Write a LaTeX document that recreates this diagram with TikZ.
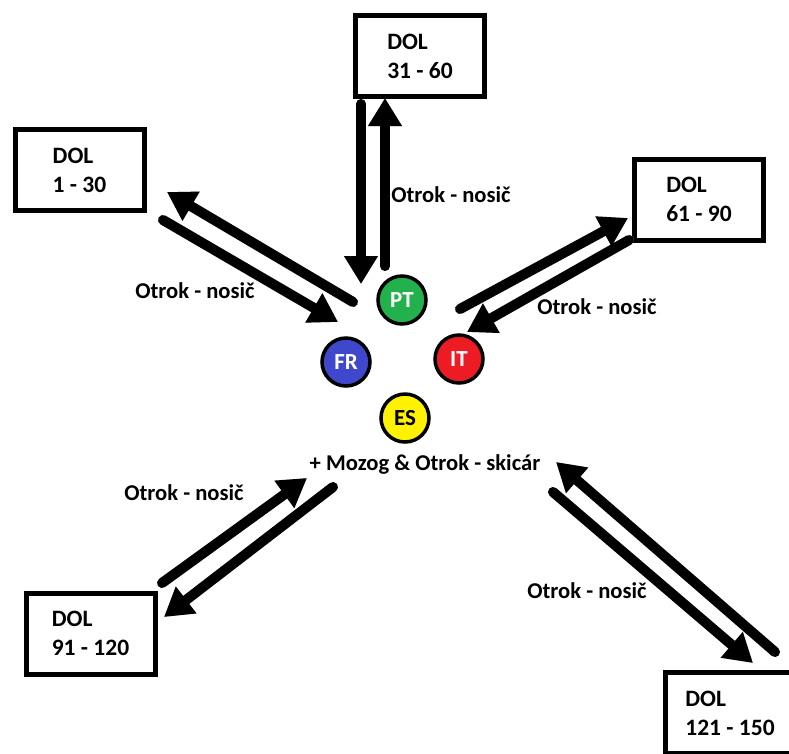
\documentclass[tikz,border=0pt]{standalone}
\usepackage{fontspec}
\setmainfont{Carlito}
\usetikzlibrary{arrows.meta}
\begin{document}
\begin{tikzpicture}[x=1pt,y=-1pt,
  dolbox/.style={draw,line width=5pt,minimum width=129pt,minimum height=81pt,align=left,
    font=\bfseries\fontsize{23.5}{29}\selectfont,inner sep=0pt},
  circ/.style={circle,draw,line width=3.5pt,minimum size=48pt,inner sep=0pt,
    font=\bfseries\fontsize{23}{26}\selectfont},
  lbl/.style={font=\bfseries\fontsize{22.6}{27}\selectfont,inner sep=0pt},
  bigarrow/.style={line width=10pt,line cap=round,-{Triangle[length=28pt,width=32pt]}},
  shadowarrow/.style={bigarrow,draw=black!25,shift={(2,2)}}]
\useasboundingbox (0,0) rectangle (789,753);
\fill[white] (0,0) rectangle (789,753);
\definecolor{ptgreen}{HTML}{22B14C}
\definecolor{frblue}{HTML}{3F48CC}
\definecolor{itred}{HTML}{ED1C24}
\definecolor{esyellow}{HTML}{FFF200}

% boxes
\node[dolbox] (b2) at (420,56) {DOL\\31 - 60};
\node[dolbox] (b1) at (79.5,170) {DOL\\1 - 30};
\node[dolbox] (b3) at (699,199.5) {DOL\\61 - 90};
\node[dolbox] (b4) at (90.5,633.5) {DOL\\91 - 120};
\node[dolbox] (b5) at (730,713) {DOL\\121 - 150};

% circles
\node[circ,fill=ptgreen,text=white] (pt) at (402,300) {PT};
\node[circ,fill=frblue,text=white] (fr) at (346,362) {FR};
\node[circ,fill=itred,text=white] (it) at (459,359) {IT};
\node[circ,fill=esyellow,text=black] (es) at (405,418) {ES};

% labels
\node[lbl] (mozog) at (425,464) {+ Mozog \& Otrok - skicár};
\node[lbl] (l1) at (195,291) {Otrok - nosič};
\node[lbl] (l2) at (451,195) {Otrok - nosič};
\node[lbl] (l3) at (597,307) {Otrok - nosič};
\node[lbl] (l4) at (184,493) {Otrok - nosič};
\node[lbl] (l5) at (587,591) {Otrok - nosič};

% arrow end coordinates
\coordinate (a1s) at (361,104);  \coordinate (a1e) at (361,284);
\coordinate (a2s) at (385,266);  \coordinate (a2e) at (385,98);
\coordinate (a3s) at (353,302);  \coordinate (a3e) at (167,192);
\coordinate (a4s) at (163,220);  \coordinate (a4e) at (338,322);
\coordinate (a5s) at (460,309);  \coordinate (a5e) at (628,218);
\coordinate (a6s) at (629,240);  \coordinate (a6e) at (467,332);
\coordinate (a7s) at (162,583);  \coordinate (a7e) at (307,478);
\coordinate (a8s) at (333,487);  \coordinate (a8e) at (164,617);
\coordinate (a9s) at (775,652);  \coordinate (a9e) at (556,462);
\coordinate (a10s) at (553,492); \coordinate (a10e) at (753,663);

\foreach \i in {1,...,10}{
  \draw[shadowarrow] (a\i s) -- (a\i e);
}
\foreach \i in {1,...,10}{
  \draw[bigarrow] (a\i s) -- (a\i e);
}
\end{tikzpicture}
\end{document}
